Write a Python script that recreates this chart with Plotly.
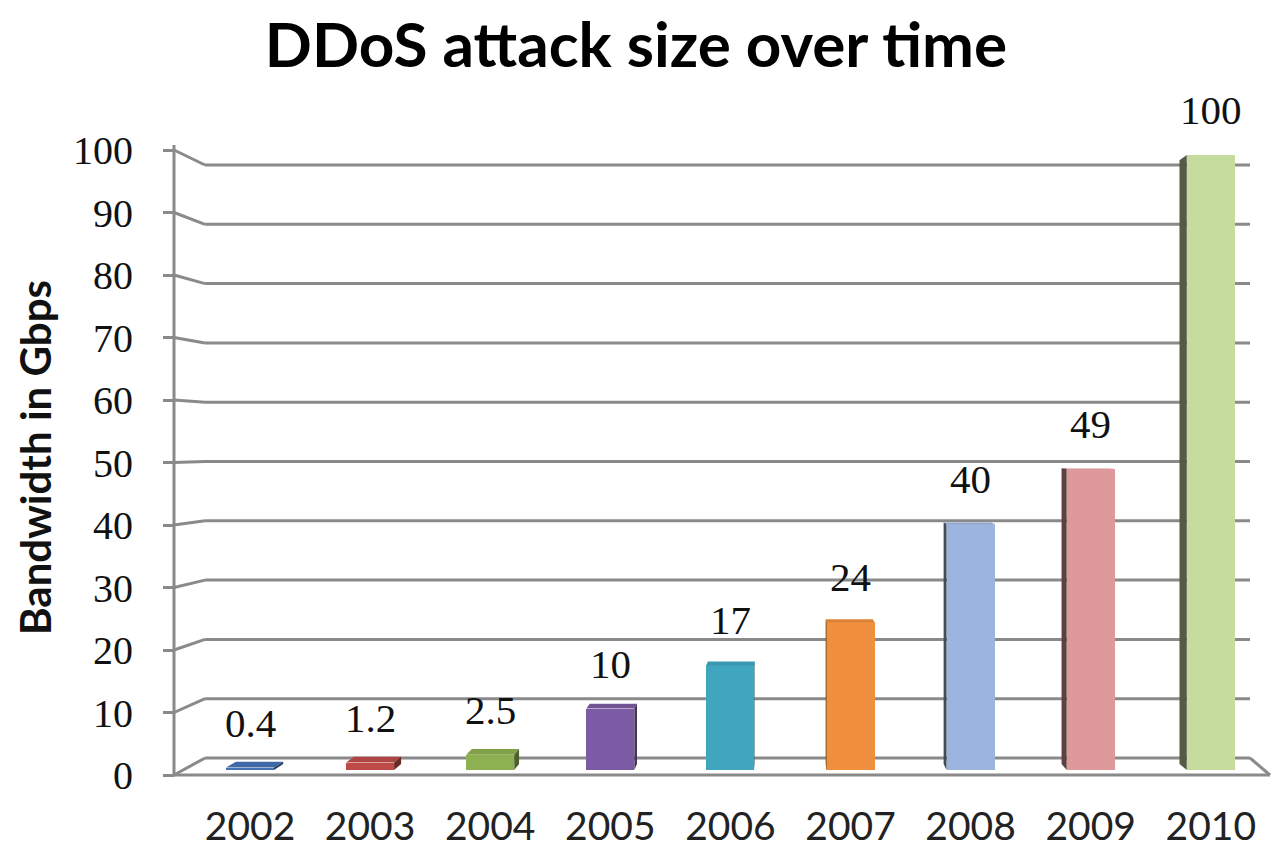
import plotly.graph_objects as go

# ---- data -------------------------------------------------------------
years = ["2002", "2003", "2004", "2005", "2006", "2007", "2008", "2009", "2010"]
bandwidth_gbps = [0.4, 1.2, 2.5, 10, 17, 24, 40, 49, 100]
y_ticks = [0, 10, 20, 30, 40, 50, 60, 70, 80, 90, 100]

# ---- styling ----------------------------------------------------------
face_colors = ["#4672b5", "#be4b48", "#8db050", "#7b5ba3", "#40a6c0",
               "#f08f3d", "#9bb5de", "#e0999b", "#c6dc9f"]
GRID = "#8a8a8a"
SERIF = "Liberation Serif"
SANS = "Lato"

W, H = 1272, 866
ML, MR, MT, MB = 150, 0, 100, 66
plot_w = W - ML - MR
plot_h = H - MT - MB

# horizontal scale: one category every 120.1 px, first bar centred at 250 px
CAT_PX = 120.1
FIRST_PX = 250


def px_to_x(px):
    return (px - FIRST_PX) / CAT_PX


x_range = [px_to_x(ML), px_to_x(W - MR)]

# front (tick) axis: 0 at 775 px, 100 at 150 px
front_range = [-4, 108]
# bar axis: zero at 770 px, 6.15 px per Gbps
BAR_UNIT = 6.15
BAR_ZERO_PX = 770
bar_lo = -(MT + plot_h - BAR_ZERO_PX) / BAR_UNIT
bar_range = [bar_lo, bar_lo + plot_h / BAR_UNIT]


def back_wall(v):
    # the back wall sits slightly deeper than the front axis
    return 2.72 + 0.9488 * v


AX = px_to_x(174)      # front vertical axis
BX = px_to_x(205)      # left edge of the back wall
RX = px_to_x(1250)     # right edge of the back wall
FRX = px_to_x(1270)    # right front corner of the floor

shapes = []


def line(x0, y0, x1, y1, yref="y"):
    shapes.append(dict(type="line", xref="x", yref=yref, x0=x0, y0=y0, x1=x1, y1=y1,
                       line=dict(color=GRID, width=3), layer="below"))


# walls and floor
for v in y_ticks:
    line(AX, v, BX, back_wall(v))
    line(BX, back_wall(v), RX, back_wall(v))
line(AX, 0, FRX, 0)
line(RX, back_wall(0), FRX, 0)
line(AX, -0.2, AX, 100.8)


def shade(hex_color, f):
    r, g, b = (int(hex_color[i:i + 2], 16) for i in (1, 3, 5))
    return "#%02x%02x%02x" % (int(r * f), int(g * f), int(b * f))


def poly(points, color):
    path = "M " + " L ".join(f"{x:.4f},{y:.4f}" for x, y in points) + " Z"
    shapes.append(dict(type="path", xref="x", yref="y2", path=path,
                       fillcolor=color, line=dict(width=0), layer="above"))


# simple perspective: depth recedes towards a vanishing point
VX, VY, DEPTH = 4.43, 53.2, 0.018
HALF = 0.2


def depth(x, y):
    return DEPTH * (VX - x), DEPTH * (VY - y)


for i, (v, c) in enumerate(zip(bandwidth_gbps, face_colors)):
    xl, xr = i - HALF, i + HALF
    # top face, visible when the bar top is below eye level
    dxl, dyl = depth(xl, v)
    dxr, dyr = depth(xr, v)
    if dyl > 0:
        poly([(xl, v), (xr, v), (xr + dxr, v + dyr), (xl + dxl, v + dyl)], shade(c, 0.92))
    # side face on the side facing the vanishing point
    if dxl < 0:
        dx0, dy0 = depth(xl, 0)
        poly([(xl, 0), (xl, v), (xl + dxl, v + dyl), (xl + dx0, dy0)], shade(c, 0.42))
    elif dxr > 0:
        dx0, dy0 = depth(xr, 0)
        poly([(xr, 0), (xr, v), (xr + dxr, v + dyr), (xr + dx0, dy0)], shade(c, 0.55))

fig = go.Figure()
fig.add_trace(go.Bar(
    x=list(range(len(years))), y=bandwidth_gbps, yaxis="y2",
    width=2 * HALF, marker=dict(color=face_colors, line=dict(width=0)),
    hoverinfo="skip", showlegend=False,
))

annotations = [
    dict(x=i, y=v, xref="x", yref="y2", text=f"{v:g}", showarrow=False,
         yanchor="bottom", yshift=20, font=dict(family=SERIF, size=41, color="#111111"))
    for i, v in enumerate(bandwidth_gbps)
]
annotations.append(dict(
    x=(35 - ML) / plot_w, y=(MT + plot_h - 458) / plot_h, xref="paper", yref="paper",
    text="<b>Bandwidth in Gbps</b>", textangle=-90, showarrow=False,
    xanchor="center", yanchor="middle", font=dict(family=SANS, size=42, color="#111111"),
))

fig.update_layout(
    width=W, height=H,
    margin=dict(l=ML, r=MR, t=MT, b=MB),
    paper_bgcolor="white", plot_bgcolor="white",
    title=dict(text="<b>DDoS attack size over time</b>", x=0.5, xanchor="center",
               y=1 - 45 / H, yanchor="middle", yref="container",
               font=dict(family=SANS, size=62, color="#000000")),
    xaxis=dict(range=x_range, tickmode="array", tickvals=list(range(len(years))),
               ticktext=years, showgrid=False, zeroline=False, showline=False,
               ticks="", tickfont=dict(family=SANS, size=39, color="#222222")),
    yaxis=dict(range=front_range, tickmode="array", tickvals=y_ticks,
               anchor="free", position=(174 - ML) / plot_w,
               showgrid=False, zeroline=False, showline=False,
               ticks="outside", ticklen=11, tickwidth=3, tickcolor=GRID,
               ticklabelstandoff=22,
               tickfont=dict(family=SERIF, size=40, color="#111111")),
    yaxis2=dict(range=bar_range, overlaying="y", anchor="x", visible=False),
    shapes=shapes,
    annotations=annotations,
    bargap=0,
)

fig.write_html("out.html")
